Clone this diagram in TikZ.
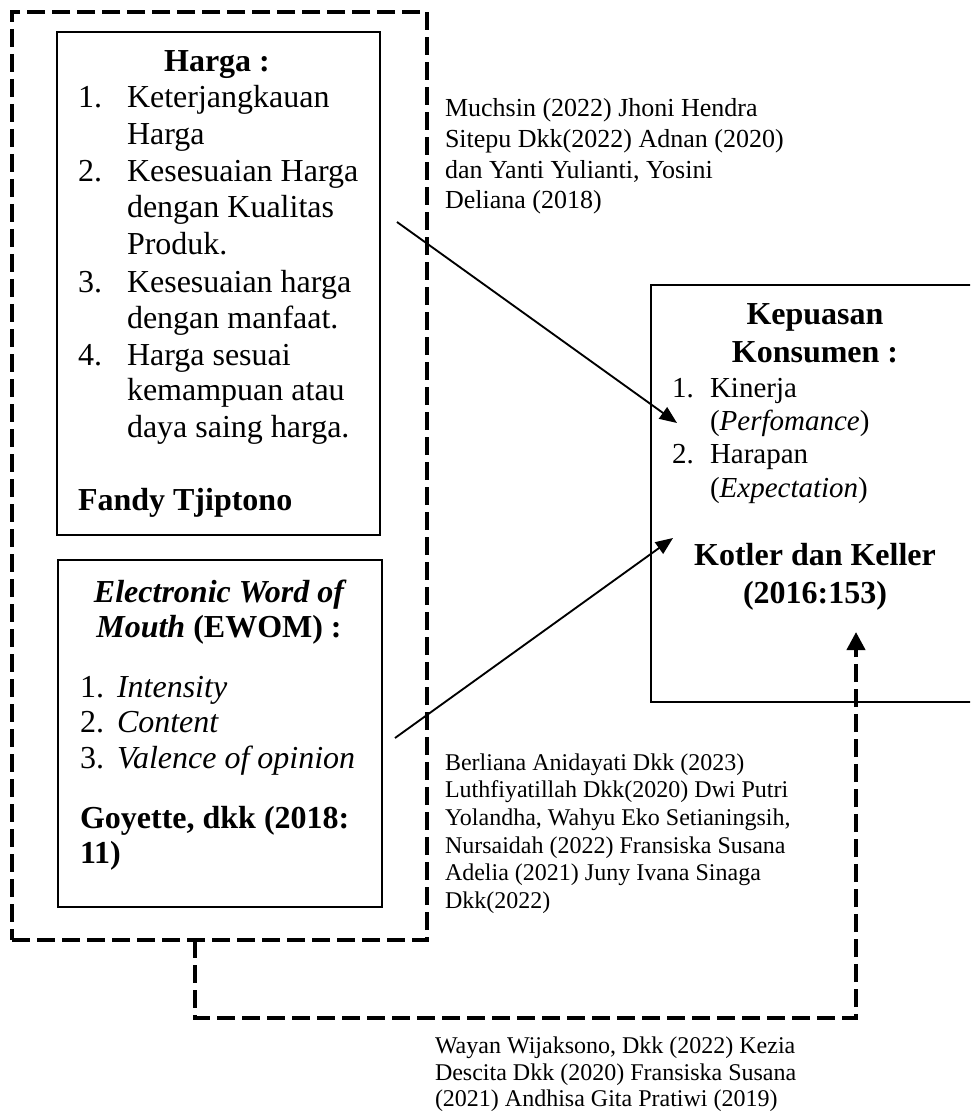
\documentclass[tikz,border=0pt]{standalone}
\usepackage{fontspec}
\setmainfont{Liberation Serif}
\usetikzlibrary{arrows.meta,fit}
\tikzset{
  txt/.style={inner sep=0pt, outer sep=0pt, anchor=base west},
  ctxt/.style={inner sep=0pt, outer sep=0pt, anchor=base},
  big/.style={font=\fontsize{24pt}{28pt}\selectfont},
  bigb/.style={font=\fontsize{24pt}{28pt}\selectfont\bfseries},
  mid/.style={font=\fontsize{21.75pt}{25pt}\selectfont},
  citeA/.style={font=\fontsize{19.5pt}{22.5pt}\selectfont},
  citeB/.style={font=\fontsize{18pt}{20.7pt}\selectfont},
  solidbox/.style={draw, line width=1.4pt, inner sep=0pt},
  dashbox/.style={draw, line width=3pt, dash pattern=on 13.5pt off 5.25pt, inner sep=0pt},
  dashline/.style={line width=3pt, dash pattern=on 13.5pt off 5.25pt},
  arr/.style={line width=1.4pt, -{Triangle[length=13pt,width=10.5pt]}},
}
\begin{document}
\begin{tikzpicture}[x=0.75pt,y=-0.75pt]
\useasboundingbox (0,0) rectangle (970,1112);
\clip (0,0) rectangle (970,1112);

% boxes
\node[solidbox, fit={(57,32) (380,535)}] (harga) {};
\node[solidbox, fit={(58,560) (382,907)}] (ewom) {};
\node[solidbox, fit={(651,285) (1000,702)}] (kep) {};
\node[dashbox, fit={(12,12) (427,940)}] (outer) {};

% Harga
\node[ctxt,bigb] (hT) at (217,72) {Harga :};
\node[txt,big] (hn1) at (78,108) {1.};
\node[txt,big] (h1a) at (127,108) {Keterjangkauan};
\node[txt,big] (h1b) at (127,145) {Harga};
\node[txt,big] (hn2) at (78,182) {2.};
\node[txt,big] (h2a) at (127,182) {Kesesuaian Harga};
\node[txt,big] (h2b) at (127,218) {dengan Kualitas};
\node[txt,big] (h2c) at (127,255) {Produk.};
\node[txt,big] (hn3) at (78,292) {3.};
\node[txt,big] (h3a) at (127,292) {Kesesuaian harga};
\node[txt,big] (h3b) at (127,328) {dengan manfaat.};
\node[txt,big] (hn4) at (78,365) {4.};
\node[txt,big] (h4a) at (127,365) {Harga sesuai};
\node[txt,big] (h4b) at (127,400) {kemampuan atau};
\node[txt,big] (h4c) at (127,437) {daya saing harga.};
\node[txt,bigb] (hS) at (78,510) {Fandy Tjiptono};

% EWOM
\node[ctxt,bigb] (eT1) at (219,602) {\itshape Electronic Word of};
\node[ctxt,bigb] (eT2) at (219,637) {\textit{Mouth} (EWOM) :};
\node[txt,big] (en1) at (80,697) {1.};
\node[txt,big] (e1) at (117,697) {\itshape Intensity};
\node[txt,big] (en2) at (80,732) {2.};
\node[txt,big] (e2) at (117,732) {\itshape Content};
\node[txt,big] (en3) at (80,768) {3.};
\node[txt,big] (e3) at (117,768) {\itshape Valence of opinion};
\node[txt,bigb] (eS1) at (80,828) {Goyette, dkk (2018:};
\node[txt,bigb] (eS2) at (80,863) {11)};

% Kepuasan
\node[ctxt,bigb] (kT1) at (815,325) {Kepuasan};
\node[ctxt,bigb] (kT2) at (815,362) {Konsumen :};
\node[txt,mid] (kn1) at (672,397) {1.};
\node[txt,mid] (k1a) at (710,397) {Kinerja};
\node[txt,mid] (k1b) at (710,430) {(\textit{Perfomance})};
\node[txt,mid] (kn2) at (672,463) {2.};
\node[txt,mid] (k2a) at (710,463) {Harapan};
\node[txt,mid] (k2b) at (710,497) {(\textit{Expectation})};
\node[ctxt,bigb] (kS1) at (815,565) {Kotler dan Keller};
\node[ctxt,bigb] (kS2) at (815,603) {(2016:153)};

% citations
\node[txt,citeA] (c1a) at (445,117) {Muchsin (2022) Jhoni Hendra};
\node[txt,citeA] (c1b) at (445,148) {Sitepu Dkk(2022) Adnan (2020)};
\node[txt,citeA] (c1c) at (445,179) {dan Yanti Yulianti, Yosini};
\node[txt,citeA] (c1d) at (445,209) {Deliana (2018)};

\node[txt,citeB] (c2a) at (445,770) {Berliana Anidayati Dkk (2023)};
\node[txt,citeB] (c2b) at (445,797) {Luthfiyatillah Dkk(2020) Dwi Putri};
\node[txt,citeB] (c2c) at (445,825) {Yolandha, Wahyu Eko Setianingsih,};
\node[txt,citeB] (c2d) at (445,853) {Nursaidah (2022) Fransiska Susana};
\node[txt,citeB] (c2e) at (445,880) {Adelia (2021) Juny Ivana Sinaga};
\node[txt,citeB] (c2f) at (445,908) {Dkk(2022)};

\node[txt,citeB] (c3a) at (435,1053) {Wayan Wijaksono, Dkk (2022) Kezia};
\node[txt,citeB] (c3b) at (435,1080) {Descita Dkk (2020) Fransiska Susana};
\node[txt,citeB] (c3c) at (435,1106) {(2021) Andhisa Gita Pratiwi (2019)};

% arrows
\coordinate (a1s) at (397,222);
\coordinate (a1e) at (677,423);
\draw[arr] (a1s) -- (a1e);
\coordinate (a2s) at (395,738);
\coordinate (a2e) at (673,538);
\draw[arr] (a2s) -- (a2e);

\coordinate (dS) at (195,940);
\coordinate (dC) at (856,1018);
\coordinate (dT) at (856,632);
\draw[dashline,-{Triangle[length=13.5pt,width=13.5pt]}] (dS) |- (dC) -- (dT);
\end{tikzpicture}
\end{document}
